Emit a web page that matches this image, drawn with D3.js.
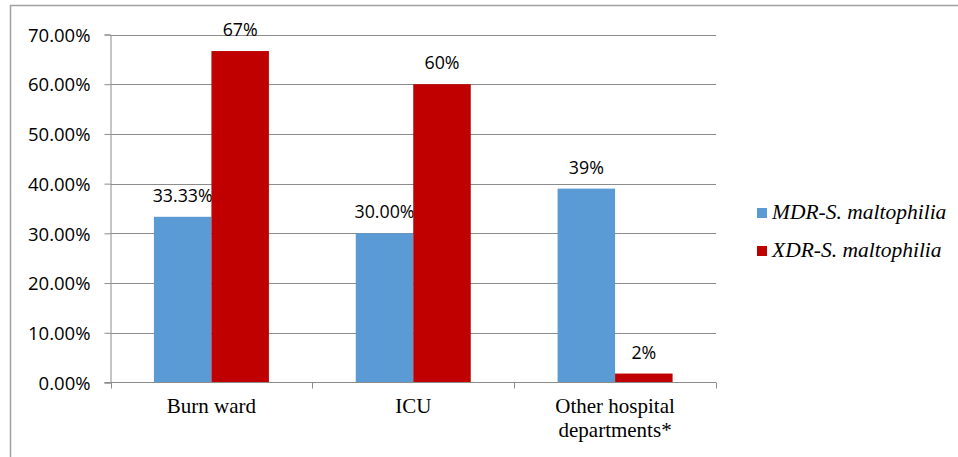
<!DOCTYPE html>
<html>
<head>
<meta charset="utf-8">
<script src="https://cdn.jsdelivr.net/npm/d3@7"></script>
<style>
  html, body { margin: 0; padding: 0; background: #fff; }
  svg { display: block; }
</style>
</head>
<body>
<script>
const categories = ["Burn ward", "ICU", "Other hospital departments*"];
const categoryLines = [["Burn ward"], ["ICU"], ["Other hospital", "departments*"]];
const seriesNames = ["MDR-S. maltophilia", "XDR-S. maltophilia"];
const mdrValues = [33.33, 30.0, 39.0];
const xdrValues = [66.67, 60.0, 1.8];
const mdrLabels = ["33.33%", "30.00%", "39%"];
const xdrLabels = ["67%", "60%", "2%"];
const yTicks = [0, 10, 20, 30, 40, 50, 60, 70];
const colors = ["#5b9bd5", "#c00000"];

(function () {
const W = 958, H = 457;
const svg = d3.select("body").append("svg").attr("width", W).attr("height", H);

// outer frame (top + left visible)
svg.append("line").attr("x1", 10).attr("x2", 958).attr("y1", 5.5).attr("y2", 5.5)
  .attr("stroke", "#a0a0a0").attr("stroke-width", 1.5);
svg.append("line").attr("x1", 10.5).attr("x2", 10.5).attr("y1", 5).attr("y2", 457)
  .attr("stroke", "#a0a0a0").attr("stroke-width", 1.5);

const pLeft = 110.5, pRight = 716, pTop = 34.5, pBottom = 382.5;

const y = d3.scaleLinear().domain([0, 70]).range([pBottom, pTop]);
const x0 = d3.scaleBand().domain(categories).range([pLeft, pRight]).padding(0);

// gridlines
svg.append("g").selectAll("line").data(yTicks.filter(d => d > 0)).join("line")
  .attr("x1", pLeft).attr("x2", pRight)
  .attr("y1", d => Math.round(y(d)) + 0.5).attr("y2", d => Math.round(y(d)) + 0.5)
  .attr("stroke", "#8c8c8c").attr("stroke-width", 1);

// y axis
const yAxis = d3.axisLeft(y).tickValues(yTicks).tickSize(6).tickPadding(14)
  .tickFormat(d => d3.format(".2f")(d) + "%");
const gy = svg.append("g").attr("transform", `translate(${pLeft},0)`).call(yAxis);
gy.select(".domain").attr("stroke", "#8c8c8c").attr("stroke-width", 1);
gy.selectAll(".tick line").attr("stroke", "#8c8c8c");
gy.selectAll(".tick text").attr("font-family", "'Open Sans', sans-serif")
  .attr("font-size", "18.5px").attr("fill", "#000").attr("dy", "0.36em");

// bars
const series = [mdrValues, xdrValues];
const labels = [mdrLabels, xdrLabels];
const bw = 57.5;
const groups = svg.append("g");
categories.forEach((c, i) => {
  const center = x0(c) + x0.bandwidth() / 2;
  const bx = d3.scaleBand().domain(seriesNames).range([center - bw, center + bw]).padding(0);
  seriesNames.forEach((s, j) => {
    const v = series[j][i];
    groups.append("rect")
      .attr("x", bx(s)).attr("width", bx.bandwidth())
      .attr("y", y(v)).attr("height", y(0) - y(v))
      .attr("fill", colors[j]);
    groups.append("text")
      .attr("x", bx(s) + bx.bandwidth() / 2).attr("y", y(v) - 15)
      .attr("text-anchor", "middle")
      .attr("font-family", "'Open Sans', sans-serif").attr("font-size", "17.8px")
      .attr("fill", "#000")
      .text(labels[j][i]);
  });
});

// x axis
svg.append("line").attr("x1", pLeft - 6).attr("x2", pRight).attr("y1", pBottom).attr("y2", pBottom)
  .attr("stroke", "#8c8c8c");
const boundaries = [pLeft, ...categories.map(c => x0(c) + x0.bandwidth())];
svg.append("g").selectAll("line").data(boundaries).join("line")
  .attr("x1", d => Math.round(d) + 0.5).attr("x2", d => Math.round(d) + 0.5)
  .attr("y1", pBottom).attr("y2", pBottom + 6)
  .attr("stroke", "#8c8c8c");

categories.forEach((c, i) => {
  const cx = x0(c) + x0.bandwidth() / 2;
  const t = svg.append("text")
    .attr("x", cx).attr("y", 413)
    .attr("text-anchor", "middle")
    .attr("font-family", "'Liberation Serif', 'Times New Roman', serif")
    .attr("font-size", "21px").attr("fill", "#000");
  categoryLines[i].forEach((ln, k) => {
    t.append("tspan").attr("x", cx).attr("dy", k === 0 ? 0 : 24).text(ln);
  });
});

// legend
const legend = svg.append("g");
seriesNames.forEach((s, j) => {
  const ly = 219 + j * 38;
  legend.append("rect").attr("x", 757).attr("y", ly - 11).attr("width", 10).attr("height", 10)
    .attr("fill", colors[j]);
  legend.append("text").attr("x", 772).attr("y", ly)
    .attr("font-family", "'Liberation Serif', 'Times New Roman', serif")
    .attr("font-style", "italic").attr("font-size", "21.5px").attr("fill", "#000")
    .text(s);
});
})();
</script>
</body>
</html>
